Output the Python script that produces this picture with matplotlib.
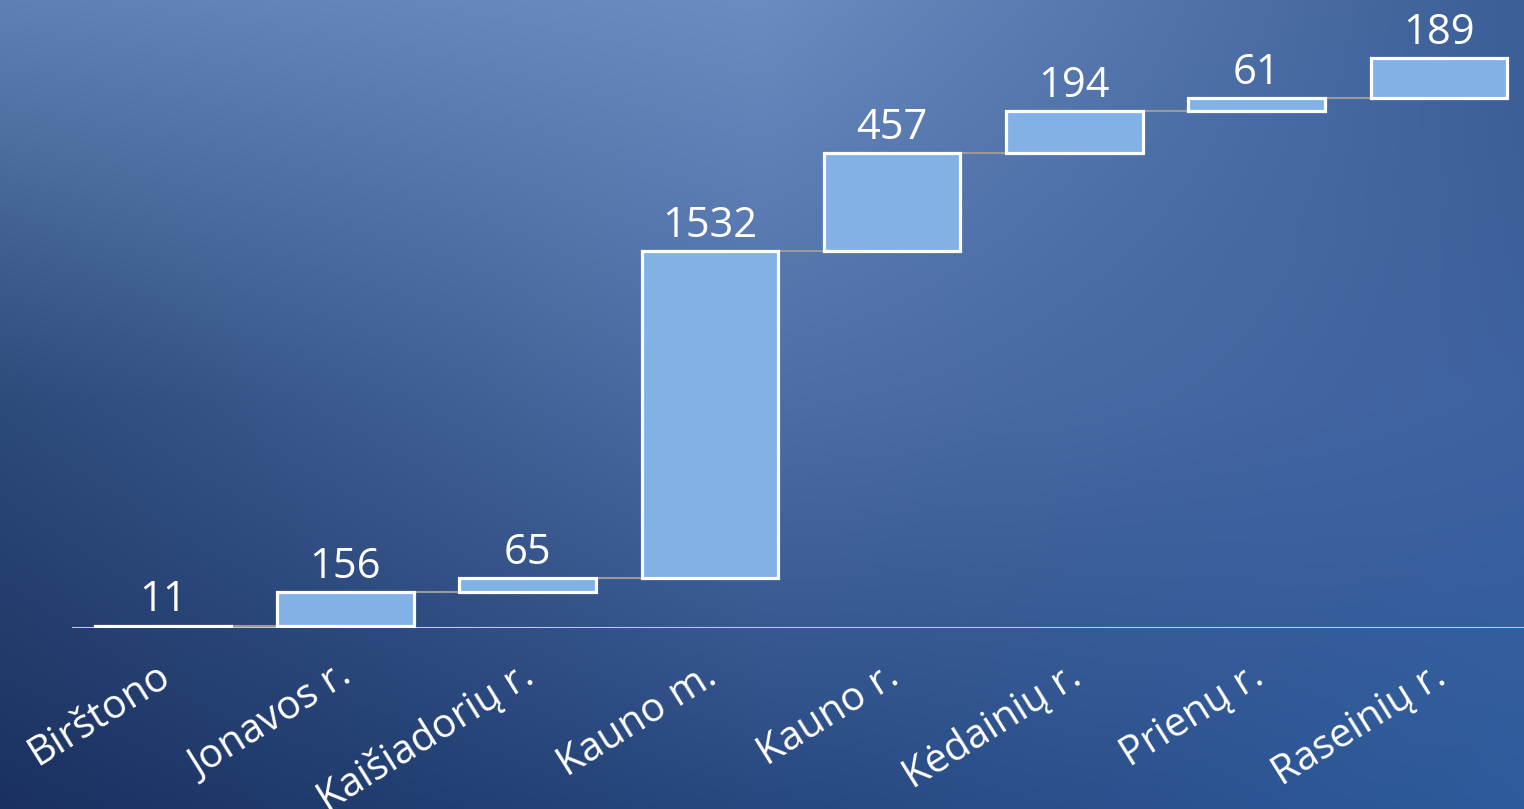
import numpy as np
import matplotlib.pyplot as plt
from matplotlib.colors import to_rgb

# waterfall data
regions = ['Birštono', 'Jonavos r.', 'Kaišiadorių r.', 'Kauno m.',
           'Kauno r.', 'Kėdainių r.', 'Prienų r.', 'Raseinių r.']
values = [11, 156, 65, 1532, 457, 194, 61, 189]

bottoms = np.concatenate([[0], np.cumsum(values)[:-1]])
tops = bottoms + np.array(values)
x = np.arange(len(values))

plt.rcParams['font.family'] = ['Open Sans', 'DejaVu Sans']

fig = plt.figure(figsize=(15.24, 8.09), dpi=100)

# background gradient (3x3 control colours, top row first)
ctrl = [['#6080b4', '#6a8cc0', '#3c5e96'],
        ['#2c4a7a', '#4d6da6', '#3e62a0'],
        ['#1a3160', '#274880', '#2e5b9c']]
ctrl = np.array([[to_rgb(c) for c in row] for row in ctrl])
ny, nx = 300, 600
gy = np.linspace(0, 2, ny)
gx = np.linspace(0, 2, nx)
rows = np.empty((3, nx, 3))
for r in range(3):
    for ch in range(3):
        rows[r, :, ch] = np.interp(gx, [0, 1, 2], ctrl[r, :, ch])
bg = np.empty((ny, nx, 3))
for ch in range(3):
    for j in range(nx):
        bg[:, j, ch] = np.interp(gy, [0, 1, 2], rows[:, j, ch])
bg_ax = fig.add_axes([0, 0, 1, 1])
bg_ax.imshow(bg, aspect='auto', extent=[0, 1, 0, 1], interpolation='bilinear')
bg_ax.axis('off')

ax = fig.add_axes([72 / 1524, (809 - 628) / 809, 1458 / 1524, 628 / 809])
ax.patch.set_alpha(0)
width = 0.75

# connectors
for i in range(len(values) - 1):
    ax.plot([x[i] + width / 2, x[i + 1] - width / 2], [tops[i], tops[i]],
            color='#9a9a9a', lw=1.5, zorder=1)

ax.bar(x, values, bottom=bottoms, width=width, color='#82b1e6',
       edgecolor='white', linewidth=2.3, zorder=2)

for xi, t, v in zip(x, tops, values):
    ax.annotate(str(v), (xi, t), xytext=(0, 3), textcoords='offset points',
                ha='center', va='bottom', color='white', fontsize=30)

ax.axhline(0, color='#c8c8c8', lw=1.5, zorder=0)
ax.set_xlim(-0.5, 7.5)
ax.set_ylim(0, 2936)
ax.set_yticks([])
ax.set_xticks(x - 0.04)
ax.set_xticklabels(regions, rotation=32, ha='right', rotation_mode='anchor',
                   color='white', fontsize=29)
ax.tick_params(axis='x', length=0, pad=20)
for s in ax.spines.values():
    s.set_visible(False)

fig.savefig('out.png', dpi=100)
